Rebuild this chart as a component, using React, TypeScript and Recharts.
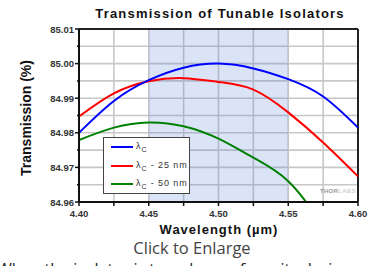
import { CartesianGrid, Line, LineChart, ReferenceArea, ReferenceLine, XAxis, YAxis } from 'recharts'

const wavelengths = [4.4, 4.425, 4.45, 4.475, 4.5, 4.525, 4.55, 4.575, 4.6]
const center = [84.98, 84.9892, 84.9952, 84.9988, 85.0, 84.9986, 84.9955, 84.9905, 84.9815]
const minus25 = [84.9847, 84.9914, 84.9949, 84.9958, 84.9947, 84.9925, 84.9859, 84.9772, 84.9674]
const minus50 = [84.9779, 84.9815, 84.983, 84.9819, 84.9783, 84.9728, 84.966, 84.953, 84.937]

const xTicks = [4.4, 4.425, 4.45, 4.475, 4.5, 4.525, 4.55, 4.575, 4.6]
const yTicks = [84.96, 84.965, 84.97, 84.975, 84.98, 84.985, 84.99, 84.995, 85.0, 85.005, 85.01]

const rows = wavelengths.map((w, i) => ({ w, c: center[i], c25: minus25[i], c50: minus50[i] }))

const FONT = '"Liberation Sans", Arial, sans-serif'
const isMultiple = (v: number, step: number) => Math.abs(v / step - Math.round(v / step)) < 1e-6

function YTick({ x, y, payload }: any) {
  const major = isMultiple(payload.value, 0.01)
  return (
    <g>
      <line x1={x - (major ? 4 : 2)} x2={x} y1={y} y2={y} stroke="#111" strokeWidth={1.5} />
      {major && (
        <text x={x - 5} y={y + 3.5} textAnchor="end" fontFamily={FONT} fontWeight="bold" fontSize={9.5} fill="#333">
          {payload.value.toFixed(2)}
        </text>
      )}
    </g>
  )
}

function XTick({ x, y, payload }: any) {
  const major = isMultiple(payload.value, 0.05)
  return (
    <g>
      <line x1={x} x2={x} y1={y} y2={y + 4} stroke="#111" strokeWidth={1.5} />
      {major && (
        <text x={x} y={y + 15} textAnchor="middle" fontFamily={FONT} fontWeight="bold" fontSize={9.5} fill="#333">
          {payload.value.toFixed(2)}
        </text>
      )}
    </g>
  )
}

const legendItems = [
  { color: '#0000ff', suffix: '' },
  { color: '#ff0000', suffix: ' - 25 nm' },
  { color: '#008000', suffix: ' - 50 nm' },
]

export default function App() {
  return (
    <div style={{ position: 'absolute', left: 0, top: 0, width: 374, height: 266, overflow: 'hidden', background: '#fff' }}>
      <div
        style={{
          position: 'absolute', left: 220, top: 6, transform: 'translateX(-50%)', whiteSpace: 'nowrap',
          fontFamily: FONT, fontWeight: 'bold', fontSize: 13, letterSpacing: 1.2, color: '#111',
        }}
      >
        Transmission of Tunable Isolators
      </div>
      <LineChart width={374} height={266} data={rows} margin={{ top: 29, right: 16, bottom: 44, left: 39 }}>
        <CartesianGrid stroke="#c8c8c8" strokeWidth={1.6} />
        {/* translucent so the grid stays visible through the band */}
        <ReferenceArea x1={4.45} x2={4.55} fill="#4a78d8" fillOpacity={0.2} stroke="none" ifOverflow="hidden" />
        <XAxis
          dataKey="w"
          type="number"
          domain={[4.4, 4.6]}
          ticks={xTicks}
          interval={0}
          allowDataOverflow
          height={20}
          tickSize={0}
          tickMargin={0}
          tickLine={false}
          axisLine={{ stroke: '#111', strokeWidth: 2 }}
          tick={<XTick />}
        />
        <YAxis
          type="number"
          domain={[84.96, 85.01]}
          ticks={yTicks}
          interval={0}
          allowDataOverflow
          width={40}
          tickSize={0}
          tickMargin={0}
          tickLine={false}
          axisLine={{ stroke: '#111', strokeWidth: 2 }}
          tick={<YTick />}
        />
        <ReferenceLine y={85.01} stroke="#222" strokeWidth={2} />
        <ReferenceLine x={4.6} stroke="#222" strokeWidth={2} />
        <Line dataKey="c50" type="natural" stroke="#008000" strokeWidth={2} dot={false} isAnimationActive={false} />
        <Line dataKey="c25" type="natural" stroke="#ff0000" strokeWidth={2} dot={false} isAnimationActive={false} />
        <Line dataKey="c" type="natural" stroke="#0000ff" strokeWidth={2} dot={false} isAnimationActive={false} />
      </LineChart>
      <div
        style={{
          position: 'absolute', left: 26, top: 118, transform: 'translate(-50%, -50%) rotate(-90deg)',
          whiteSpace: 'nowrap', fontFamily: FONT, fontWeight: 'bold', fontSize: 14, color: '#111',
        }}
      >
        Transmission (%)
      </div>
      <div
        style={{
          position: 'absolute', left: 219, top: 222, transform: 'translateX(-50%)', whiteSpace: 'nowrap',
          fontFamily: FONT, fontWeight: 'bold', fontSize: 13, letterSpacing: 1, color: '#111',
        }}
      >
        Wavelength (µm)
      </div>
      <div
        style={{
          position: 'absolute', left: 103, top: 137, width: 87, height: 57, background: '#fff',
          border: '1.5px solid #444', boxSizing: 'border-box',
        }}
      >
        {legendItems.map((it, i) => (
          <div key={i} style={{ position: 'absolute', left: 7, top: 3 + i * 18.5, height: 12, display: 'flex', alignItems: 'center' }}>
            <div style={{ width: 22, height: 2, background: it.color }} />
            <span style={{ marginLeft: 3, fontFamily: FONT, fontSize: 9, color: '#333', letterSpacing: 0.9, whiteSpace: 'nowrap' }}>
              λ<sub style={{ fontSize: 7 }}>C</sub>
              {it.suffix}
            </span>
          </div>
        ))}
      </div>
      <div style={{ position: 'absolute', left: 320, top: 188, fontFamily: FONT, fontWeight: 'bold', fontSize: 6, letterSpacing: 0.3 }}>
        <span style={{ color: '#999' }}>THOR</span>
        <span style={{ color: '#d0d0d0' }}>LABS</span>
      </div>
      <div
        style={{
          position: 'absolute', left: 192, top: 237, transform: 'translateX(-50%)', whiteSpace: 'nowrap',
          fontFamily: '"Open Sans", sans-serif', fontSize: 16.5, lineHeight: '22px', color: '#444',
        }}
      >
        Click to Enlarge
      </div>
      <div
        style={{
          position: 'absolute', left: -3, top: 258, whiteSpace: 'nowrap',
          fontFamily: '"Open Sans", sans-serif', fontSize: 16, lineHeight: '22px', color: '#222',
        }}
      >
        When the isolator is tuned away from its design wavelength
      </div>
    </div>
  )
}
